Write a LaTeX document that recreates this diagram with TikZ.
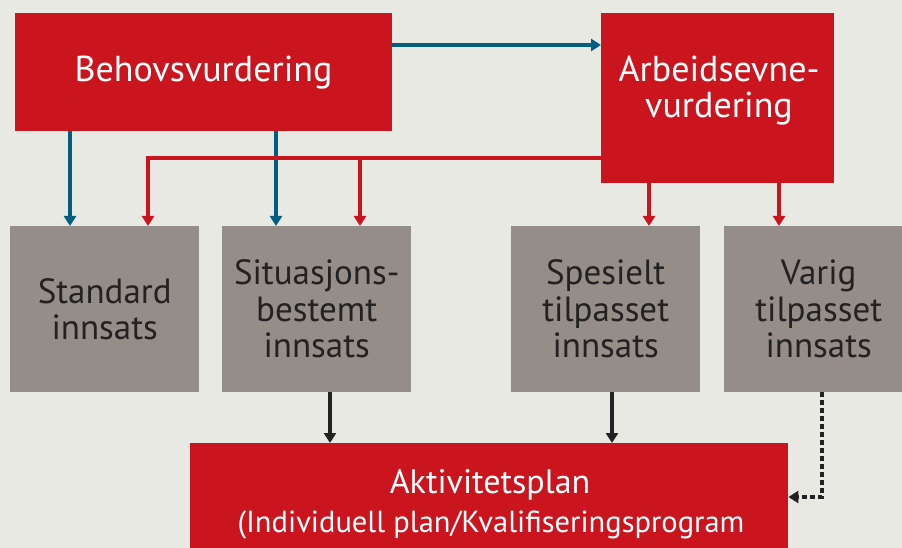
\documentclass[tikz,border=0pt]{standalone}
\usepackage{fontspec}
\setmainfont{PT Sans}
\usetikzlibrary{arrows.meta,calc}
\definecolor{bg}{HTML}{E9E9E3}
\definecolor{nred}{HTML}{CB151E}
\definecolor{nblue}{HTML}{005F80}
\definecolor{ngray}{HTML}{958D87}
\definecolor{ndark}{HTML}{222222}
\tikzset{
  redbox/.style={fill=nred, draw=none, text=white, align=center, anchor=north west, inner sep=0pt},
  graybox/.style={fill=ngray, draw=none, text=ndark, align=center, anchor=north west, inner sep=0pt,
    minimum width=189pt, minimum height=166pt, font=\fontsize{35}{36.5}\selectfont},
  whitetext/.style={text=white, align=center, anchor=base, inner sep=0pt},
  tip/.style={-{Triangle[width=12pt,length=10pt]}},
  bluearrow/.style={tip, draw=nblue, line width=4pt},
  redarrow/.style={tip, draw=nred, line width=4pt},
  darkarrow/.style={tip, draw=ndark, line width=3.5pt},
  dottedarrow/.style={tip, draw=ndark, line width=4pt, dash pattern=on 5pt off 3pt},
}
\begin{document}
\begin{tikzpicture}[x=1pt,y=-1pt]
\clip (0,0) rectangle (902,548);
\fill[bg] (0,0) rectangle (902,548);
\node[redbox, minimum width=377pt, minimum height=118pt] (beh) at (15,13) {};
\node[whitetext, font=\fontsize{36}{40}\selectfont] (behtext) at (203.5,82) {Behovsvurdering};
\node[redbox, minimum width=233pt, minimum height=170pt] (arb) at (601,13) {};
\node[whitetext, font=\fontsize{36}{36}\selectfont] (arbtext) at (719,118) {Arbeidsevne-\\vurdering};
\node[graybox] (std) at (10,226) {Standard\\innsats};
\node[graybox] (sit) at (222,226) {Situasjons-\\bestemt\\innsats};
\node[graybox] (spe) at (511,226) {Spesielt\\tilpasset\\innsats};
\node[graybox] (var) at (724,226) {Varig\\tilpasset\\innsats};
\node[redbox, minimum width=598pt, minimum height=120pt] (akt) at (190,443) {};
\node[whitetext, font=\fontsize{34}{36}\selectfont] (akt1) at (490,493) {Aktivitetsplan};
\node[whitetext, font=\fontsize{30.5}{34}\selectfont] (akt2) at (491,532) {(Individuell plan/Kvalifiseringsprogram};
% blue
\draw[bluearrow] ([yshift=-32pt]beh.north east) -- ([yshift=-32pt]beh.north east -| arb.west);
\draw[bluearrow] (beh.south -| 70,0) -- (std.north -| 70,0);
\draw[bluearrow] (beh.south -| 276,0) -- (sit.north -| 276,0);
% red
\coordinate (rc) at (148,158);
\draw[redarrow] (arb.west |- rc) -- (rc) -- (std.north -| rc);
\draw[redarrow] (360,158) -- (sit.north -| 360,0);
\draw[redarrow] (arb.south -| 649,0) -- (spe.north -| 649,0);
\draw[redarrow] (arb.south -| 779,0) -- (var.north -| 779,0);
% dark
\draw[darkarrow] (sit.south -| 330,0) -- (akt.north -| 330,0);
\draw[darkarrow] (spe.south -| 612,0) -- (akt.north -| 612,0);
\coordinate (dc) at (822,497);
\draw[dottedarrow] (var.south -| dc) -- (dc) -- (akt.east |- dc);
\end{tikzpicture}
\end{document}
